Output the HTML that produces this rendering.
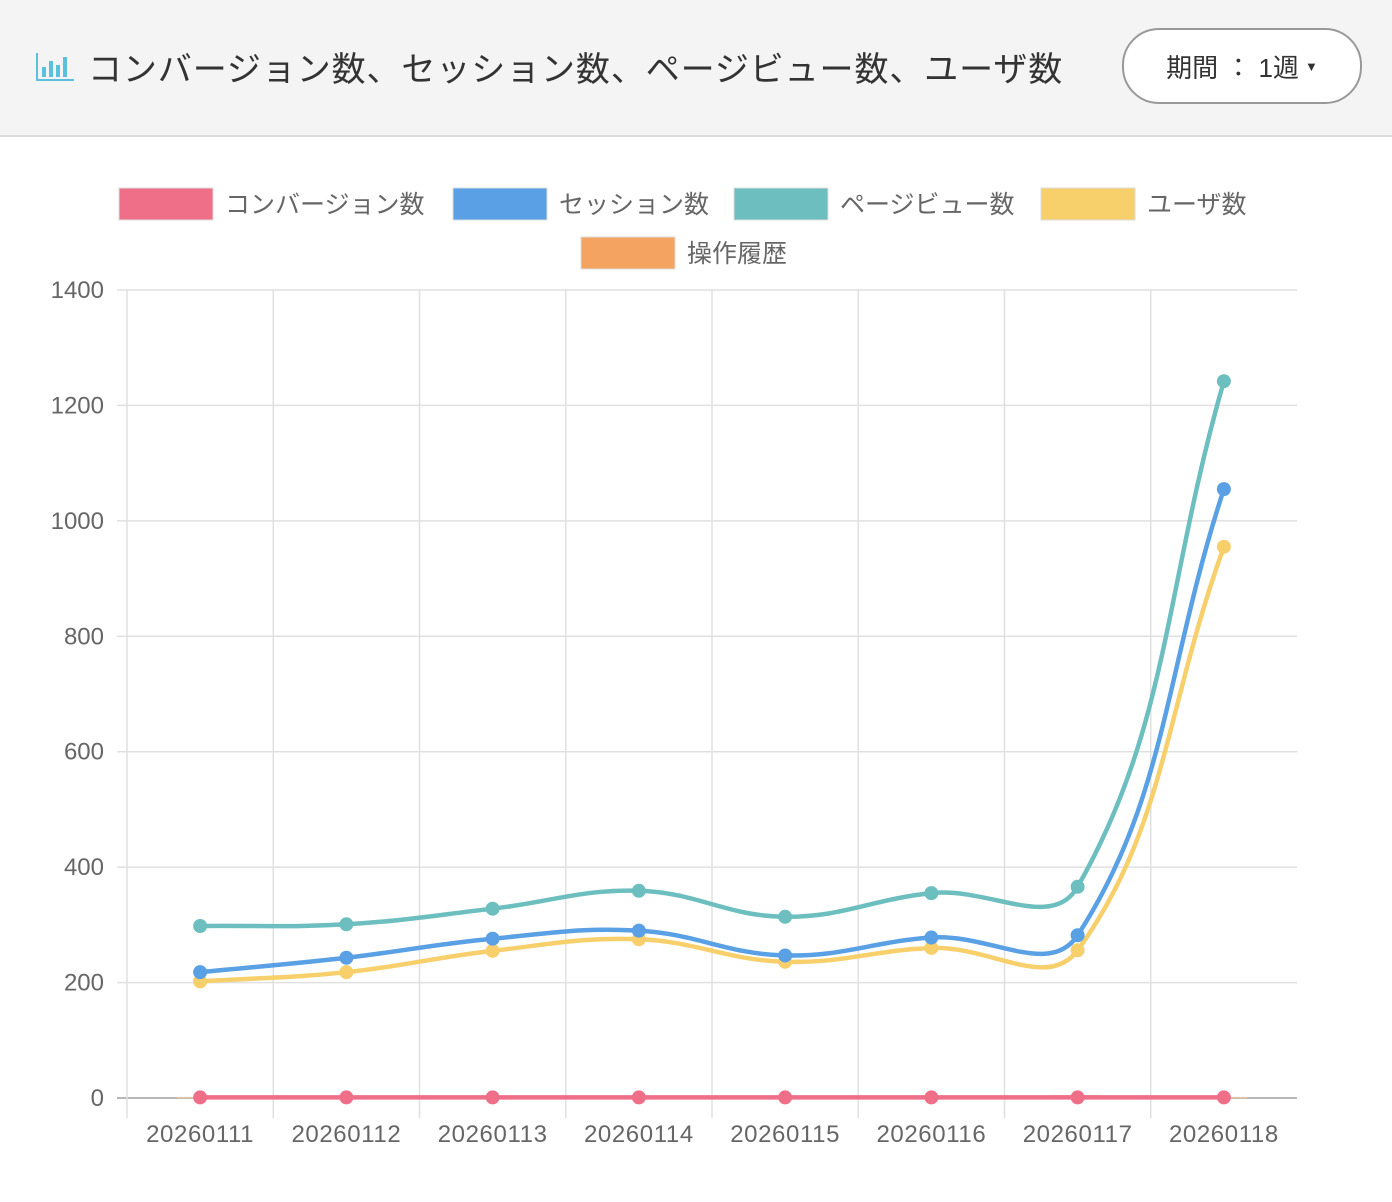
<!DOCTYPE html>
<html><head><meta charset="utf-8"><style>
body{margin:0;width:1392px;height:1202px;background:#fff;font-family:"Liberation Sans","Noto Sans CJK JP",sans-serif;overflow:hidden}
.hdr{position:absolute;left:0;top:0;width:1392px;height:135px;background:#f4f4f4;border-bottom:2px solid #ddd}
.title{position:absolute;left:34px;top:42px;font-size:34px;letter-spacing:0.9px;color:#333;display:flex;align-items:center}
.btn{position:absolute;left:1122px;top:28px;width:236px;height:72px;border:2px solid #999;border-radius:37px;background:#fff;font-size:26px;color:#333;display:flex;align-items:center;justify-content:center}
</style></head><body>
<div class="hdr">
<div class="title"><svg width="42" height="32"><g fill="#5bc0de"><rect x="2" y="2" width="2" height="28"/><rect x="2" y="28" width="38" height="2"/><rect x="8" y="16" width="4" height="10"/><rect x="15" y="10" width="4" height="16"/><rect x="22" y="14" width="4" height="12"/><rect x="29" y="6" width="4" height="20"/></g></svg><span style="margin-left:12px">コンバージョン数、セッション数、ページビュー数、ユーザ数</span></div>
<div class="btn">期間 ： 1週<span style="font-size:13px;margin-left:6px">▼</span></div>
</div>
<svg id="c" width="1392" height="1202" style="position:absolute;left:0;top:0"></svg>
<script>
const categories=["20260111","20260112","20260113","20260114","20260115","20260116","20260117","20260118"];
const conversions=[1,1,1,1,1,1,1,1];
const sessions=[218,243,276,290,247,278,282,1055];
const pageviews=[298,301,328,359,314,355,366,1242];
const users=[202,218,255,275,236,260,256,955];
const operations=[1,2,1,1,2,2,4,1];
const yTicks=[0,200,400,600,800,1000,1200,1400];
const svg=document.getElementById('c');const NS='http://www.w3.org/2000/svg';
const L=127,R=1297,T=290,B=1098;
const step=(R-L)/categories.length;
const xS=i=>L+step*(i+0.5);
const yS=v=>B-(v/1400)*(B-T);
function mk(t,a,p){const e=document.createElementNS(NS,t);for(const k in a)e.setAttribute(k,a[k]);(p||svg).appendChild(e);return e;}
yTicks.forEach(v=>{const y=yS(v);
const g=mk('line',{x1:L-10,x2:R,y1:y,y2:y,stroke:v===0?'#b8b8b8':'#e0e0e0','stroke-width':v===0?2:1.5});

const t=mk('text',{x:L-23,y:y+8,'text-anchor':'end','font-size':24,fill:'#666'});t.textContent=v;
});
for(let i=0;i<categories.length;i++){const x=L+step*i;
const g=mk('line',{x1:x,x2:x,y1:T,y2:B+20,stroke:'#e0e0e0','stroke-width':1.5});
}
categories.forEach((c,i)=>{const t=mk('text',{x:xS(i),y:B+44,'text-anchor':'middle','font-size':24,'letter-spacing':'0.6',fill:'#666'});t.textContent=c;
});
operations.forEach((v,i)=>{const y=yS(v);const r=mk('rect',{x:xS(i)-23,y:y,width:46,height:B-y,fill:'#f4a460',stroke:'#e0c4a8'});
});
function path(vals){const p=vals.map((v,i)=>[xS(i),yS(v)]);const t=0.4;let d='M'+p[0];
const cp=p.map((c,i)=>{const pr=p[i-1]||c,nx=p[i+1]||c;
const d01=Math.hypot(c[0]-pr[0],c[1]-pr[1]),d12=Math.hypot(nx[0]-c[0],nx[1]-c[1]);
let fa=d01/(d01+d12)||0,fb=d12/(d01+d12)||0;fa*=t;fb*=t;
return{p:[c[0]-fa*(nx[0]-pr[0]),c[1]-fa*(nx[1]-pr[1])],n:[c[0]+fb*(nx[0]-pr[0]),c[1]+fb*(nx[1]-pr[1])]};});
for(let i=1;i<p.length;i++)d+=' C'+cp[i-1].n+' '+cp[i].p+' '+p[i];return d;}
function series(vals,col,name){const pa=mk('path',{d:path(vals),fill:'none',stroke:col,'stroke-width':4.5});

vals.forEach((v,i)=>{const c=mk('circle',{cx:xS(i),cy:yS(v),r:7,fill:col});
});}
series(users,'#f7cf6b','users');series(sessions,'#5aa0e5','sessions');series(pageviews,'#6dbfbf','pageviews');series(conversions,'#ef6f89','conversions');
const leg=[['コンバージョン数','#ef6f89',119,204],['セッション数','#5aa0e5',453,204],['ページビュー数','#6dbfbf',734,204],['ユーザ数','#f7cf6b',1041,204],['操作履歴','#f4a460',581,253]];
leg.forEach(l=>{const r=mk('rect',{x:l[2],y:l[3]-16,width:94,height:32,fill:l[1],stroke:'#ddd'});

const t=mk('text',{x:l[2]+106,y:l[3]+9,'font-size':25,fill:'#666'});t.textContent=l[0];
});
</script>
</body></html>
